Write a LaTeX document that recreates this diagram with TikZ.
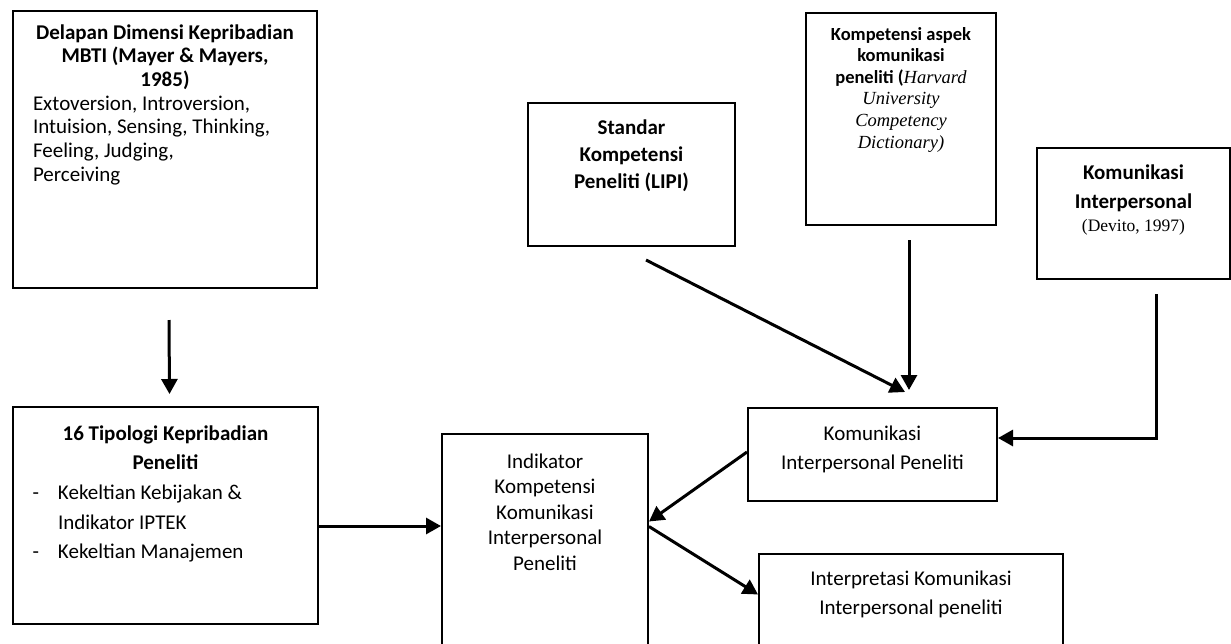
\documentclass[tikz,border=0pt]{standalone}
\usepackage{fontspec}
\setmainfont{Carlito}
\newfontfamily\timesfont{Liberation Serif}
\usetikzlibrary{arrows.meta}

\newcommand{\boxtext}[4]{\begin{minipage}[t][#2][t]{#1}\rule{0pt}{#3}#4\end{minipage}}

\tikzset{
    box/.style={draw, line width=2pt, inner sep=0pt, anchor=north west},
    arr/.style={line width=3pt, -{Triangle[length=15pt,width=16pt]}},
}

\begin{document}
\begin{tikzpicture}[x=1pt, y=-1pt]
    \useasboundingbox[fill=white] (0,0) rectangle (1231,643);

    \node (mbti) [box, font=\fontsize{21}{23.7}\selectfont] at (12,10)
        {\boxtext{304pt}{277pt}{28pt}{\centering\textbf{Delapan Dimensi Kepribadian\\ MBTI (Mayer \& Mayers,\\ 1985)}\par
        \raggedright\leftskip=20pt Extoversion, Introversion,\\ Intuision, Sensing, Thinking,\\ Feeling, Judging,\\ Perceiving\par}};
    \node (tipo) [box, font=\fontsize{21}{29.7}\selectfont] at (12,406)
        {\boxtext{305pt}{217pt}{33pt}{\centering\textbf{16 Tipologi Kepribadian\\ Peneliti}\par
        \raggedright\leftskip=45pt \leavevmode\llap{-\hspace{19pt}}Kekeltian Kebijakan \&\\ Indikator IPTEK\\ \leavevmode\llap{-\hspace{19pt}}Kekeltian Manajemen\par}};
    \node (std) [box, font=\fontsize{21}{27}\selectfont] at (527,102)
        {\boxtext{207pt}{143pt}{31pt}{\centering\textbf{Standar\\ Kompetensi\\ Peneliti (LIPI)}}};
    \node (komp) [box, font=\fontsize{18.5}{21.6}\selectfont] at (805,12)
        {\boxtext{190pt}{212pt}{27pt}{\centering\textbf{Kompetensi aspek\\ komunikasi\\ peneliti (}{\timesfont\itshape Harvard\\ University\\ Competency\\ Dictionary)}}};
    \node (dev) [box, font=\fontsize{21}{29}\selectfont] at (1036,147)
        {\boxtext{193pt}{131pt}{31pt}{\centering\textbf{Komunikasi\\ Interpersonal}\\[-6pt] {\timesfont\fontsize{17.5}{23}\selectfont (Devito, 1997)}}};
    \node (kip) [box, font=\fontsize{21}{29}\selectfont] at (747,407)
        {\boxtext{249pt}{93pt}{32pt}{\centering Komunikasi\\ Interpersonal Peneliti}};
    \node (ind) [box, font=\fontsize{21}{25.5}\selectfont] at (441,433)
        {\boxtext{206pt}{220pt}{34pt}{\centering Indikator\\ Kompetensi\\ Komunikasi\\ Interpersonal\\ Peneliti}};
    \node (interp) [box, font=\fontsize{21}{29}\selectfont] at (758,553)
        {\boxtext{304pt}{100pt}{31pt}{\centering Interpretasi Komunikasi\\ Interpersonal peneliti}};

    \draw [arr] ([xshift=4pt,yshift=-31pt]mbti.south) -- ([xshift=4pt,yshift=12pt]tipo.north);
    \draw [arr] ([yshift=-10.5pt]tipo.east) -- ([yshift=-10.5pt]tipo.east -| ind.west);
    \draw [arr] ([xshift=14.5pt,yshift=-13pt]std.south) -- ([xshift=32.5pt,yshift=15pt]kip.north);
    \draw [arr] ([xshift=36.5pt,yshift=-14pt]komp.south -| kip.north) -- ([xshift=36.5pt,yshift=17pt]kip.north);
    \draw [arr] ([xshift=22.5pt,yshift=-14pt]dev.south) |- ([yshift=16.5pt]kip.east);
    \draw [arr] ([yshift=2.5pt]kip.west) -- ([yshift=22.5pt]ind.east);
    \draw [arr] ([yshift=17.5pt]ind.east) -- ([yshift=9.5pt]interp.west);

\end{tikzpicture}
\end{document}
